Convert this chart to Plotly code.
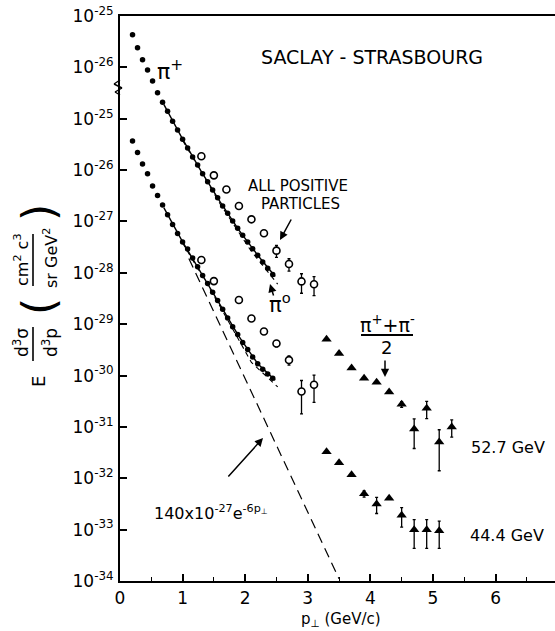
import plotly.graph_objects as go

FONT = "DejaVu Sans"

# ---------------- data ----------------
SHIFT_527 = 100  # the 52.7 GeV set is displaced upward by a factor 100

P_DOTS = [0.20, 0.28, 0.36, 0.44, 0.52, 0.60, 0.68, 0.76, 0.84, 0.92,
          1.00, 1.08, 1.16, 1.24, 1.32, 1.40, 1.48, 1.56, 1.64, 1.72,
          1.80, 1.88, 1.96, 2.04, 2.12, 2.20, 2.28, 2.36, 2.44]
PIP_527 = [4.3e-26, 2.4e-26, 1.41e-26, 8.9e-27, 5.4e-27, 3.2e-27, 2.1e-27, 1.4e-27, 8.9e-28, 6.0e-28,
           4.0e-28, 2.7e-28, 1.8e-28, 1.26e-28, 8.5e-29, 5.9e-29, 4.1e-29, 2.9e-29, 2.0e-29, 1.45e-29,
           1.02e-29, 7.4e-30, 5.4e-30, 4.0e-30, 2.95e-30, 2.19e-30, 1.62e-30, 1.23e-30, 9.3e-31]
PIP_444 = [3.7e-26, 2.2e-26, 1.32e-26, 8.5e-27, 4.9e-27, 3.2e-27, 2.1e-27, 1.35e-27, 8.7e-28, 5.8e-28,
           4.0e-28, 2.9e-28, 1.95e-28, 1.32e-28, 8.9e-29, 6.2e-29, 4.2e-29, 2.9e-29, 1.95e-29, 1.32e-29,
           8.9e-30, 6.3e-30, 4.4e-30, 3.2e-30, 2.3e-30, 1.7e-30, 1.32e-30, 1.07e-30, 8.9e-31]

FIT_P = [0.70, 1.00, 1.30, 1.60, 1.90, 2.20, 2.48]
FIT_527 = [1.9e-27, 4.0e-28, 9.3e-29, 2.4e-29, 6.8e-30, 2.2e-30, 8.5e-31]
FIT_444 = [1.86e-27, 4.0e-28, 9.8e-29, 2.4e-29, 5.8e-30, 1.7e-30, 8.1e-31]

DASH_P = [1.00, 1.60, 2.10, 2.52]
DASH_527 = [3.8e-28, 2.2e-29, 2.6e-30, 6.0e-31]
DASH_444 = [3.8e-28, 2.2e-29, 1.8e-30, 6.0e-31]

EXP_P = [1.10, 3.50]          # 140e-27 * exp(-6 pT)
EXP_Y = [1.9e-28, 1.1e-34]

P_ALL_527 = [1.3, 1.5, 1.7, 1.9, 2.1, 2.3, 2.5, 2.7, 2.9, 3.1]
ALL_527 = [1.86e-28, 7.9e-29, 4.2e-29, 2.0e-29, 1.10e-29, 5.9e-30, 2.7e-30, 1.48e-30, 6.8e-31, 6.0e-31]
ALL_527_ERR = [0, 0, 0, 0, 0, 0, 0.7e-30, 0.4e-30, 2.8e-31, 2.4e-31]

P_ALL_444 = [1.3, 1.5, 1.9, 2.1, 2.3, 2.5, 2.7, 2.9, 3.1]
ALL_444 = [1.78e-28, 6.9e-29, 2.95e-29, 1.29e-29, 7.2e-30, 4.2e-30, 2.0e-30, 4.9e-31, 6.6e-31]
ALL_444_ERR = [0, 0, 0, 0, 0, 0.6e-30, 0.4e-30, 3.1e-31, 3.6e-31]

P_PI_527 = [3.3, 3.5, 3.7, 3.9, 4.1, 4.3, 4.5, 4.7, 4.9, 5.1, 5.3]
PI_527 = [5.1e-32, 2.7e-32, 1.41e-32, 8.9e-33, 7.4e-33, 4.8e-33, 2.75e-33, 9.1e-34, 2.3e-33, 5.1e-34, 1.0e-33]
PI_527_ERR = [0, 0, 0, 0, 0, 0, 0.36e-33, 0.53e-33, 0.85e-33, 3.7e-34, 0.37e-33]

P_PI_444 = [3.3, 3.5, 3.7, 3.9, 4.1, 4.3, 4.5, 4.7, 4.9, 5.1]
PI_444 = [3.3e-32, 2.0e-32, 1.17e-32, 5.0e-33, 3.16e-33, 4.1e-33, 1.9e-33, 1.0e-33, 1.0e-33, 9.5e-34]
PI_444_ERR = [0, 0, 0, 0.7e-33, 1.1e-33, 0, 0.78e-33, 0.57e-33, 0.57e-33, 0.52e-33]

Y_TICKVALS = [1e-34, 1e-33, 1e-32, 1e-31, 1e-30, 1e-29, 1e-28, 1e-27, 1e-26, 1e-25, 1e-24, 1e-23]
Y_TICKTEXT = ["10<sup>-34</sup>", "10<sup>-33</sup>", "10<sup>-32</sup>", "10<sup>-31</sup>",
              "10<sup>-30</sup>", "10<sup>-29</sup>", "10<sup>-28</sup>", "10<sup>-27</sup>",
              "10<sup>-26</sup>", "10<sup>-25</sup>", "10<sup>-26</sup>", "10<sup>-25</sup>"]
X_TICKVALS = [0, 1, 2, 3, 4, 5, 6]


def scaled(vals, k):
    return [v * k for v in vals]


def errs(vals, k=1):
    return [e * k if e > 0 else None for e in vals]


fig = go.Figure()

# fitted / guide lines
for yv, k in ((FIT_527, SHIFT_527), (FIT_444, 1)):
    fig.add_trace(go.Scatter(x=FIT_P, y=scaled(yv, k), mode="lines",
                             line=dict(color="black", width=1.4), showlegend=False))
for yv, k in ((DASH_527, SHIFT_527), (DASH_444, 1)):
    fig.add_trace(go.Scatter(x=DASH_P, y=scaled(yv, k), mode="lines",
                             line=dict(color="black", width=1.1, dash="5px,4px"), showlegend=False))
fig.add_trace(go.Scatter(x=EXP_P, y=EXP_Y, mode="lines",
                         line=dict(color="black", width=1.2, dash="10px,6px"), showlegend=False))

# pi+ dots
for yv, k in ((PIP_527, SHIFT_527), (PIP_444, 1)):
    fig.add_trace(go.Scatter(x=P_DOTS, y=scaled(yv, k), mode="markers",
                             marker=dict(symbol="circle", size=5.5, color="black"), showlegend=False))

# all positive particles (open circles)
for px, yv, ev, k in ((P_ALL_527, ALL_527, ALL_527_ERR, SHIFT_527), (P_ALL_444, ALL_444, ALL_444_ERR, 1)):
    fig.add_trace(go.Scatter(x=px, y=scaled(yv, k), mode="markers",
                             marker=dict(symbol="circle", size=7, color="white",
                                         line=dict(color="black", width=1.6)),
                             error_y=dict(type="data", array=errs(ev, k), visible=True,
                                          thickness=1.3, width=1.5, color="black"),
                             showlegend=False))

# (pi+ + pi-)/2 triangles
for px, yv, ev, k in ((P_PI_527, PI_527, PI_527_ERR, SHIFT_527), (P_PI_444, PI_444, PI_444_ERR, 1)):
    fig.add_trace(go.Scatter(x=px, y=scaled(yv, k), mode="markers",
                             marker=dict(symbol="triangle-up", size=9, color="black"),
                             error_y=dict(type="data", array=errs(ev, k), visible=True,
                                          thickness=1.3, width=1.5, color="black"),
                             showlegend=False))

# ---------------- layout helpers (pixel -> paper) ----------------
L, R, T, B = 120, 0, 16, 50
W, H = 555, 631
PW, PH = W - L - R, H - T - B


def P(x, y):
    return (x - L) / PW, (H - B - y) / PH


ann = []


def text(x, y, s, size, angle=0, anchor="center"):
    px, py = P(x, y)
    ann.append(dict(xref="paper", yref="paper", x=px, y=py, text=s, showarrow=False,
                    textangle=angle, xanchor=anchor, yanchor="middle",
                    font=dict(family=FONT, size=size, color="black")))


def arrow(hx, hy, tx, ty):
    px, py = P(hx, hy)
    ann.append(dict(xref="paper", yref="paper", x=px, y=py, ax=tx - hx, ay=ty - hy,
                    axref="pixel", ayref="pixel", text="", showarrow=True,
                    arrowhead=2, arrowsize=1.1, arrowwidth=1.5, arrowcolor="black"))


shapes = []


def seg(x0, y0, x1, y1, w=1.6):
    a, b = P(x0, y0)
    c, d = P(x1, y1)
    shapes.append(dict(type="line", xref="paper", yref="paper", x0=a, y0=b, x1=c, y1=d,
                       line=dict(color="black", width=w)))


text(372, 57, "SACLAY - STRASBOURG", 19)
text(170, 70, "π<sup>+</sup>", 22)
text(298, 186, "ALL POSITIVE", 15)
text(300, 204, "PARTICLES", 15)
arrow(280, 240, 292, 218)
text(280, 303, "π<sup>o</sup>", 21)
arrow(270, 284, 274, 297)
text(387, 324, "π<sup>+</sup>+π<sup>-</sup>", 19)
seg(361, 335, 413, 335, 1.8)
text(386, 348, "2", 18)
arrow(385, 377, 385, 359)
text(508, 447, "52.7 GeV", 16)
text(507, 535, "44.4 GeV", 16)
text(152, 512, "140x10<sup>-27</sup>e<sup>-6p<sub>⊥</sub></sup>", 16, anchor="left")
arrow(263, 438, 227, 478)
text(341, 619, "p<sub>⊥</sub> (GeV/c)", 15)

# y-axis title built from rotated pieces
text(38, 382, "E", 18, angle=-90)
text(21, 343, "d<sup>3</sup>σ", 17, angle=-90)
text(50, 343, "d<sup>3</sup>p", 17, angle=-90)
seg(33, 327, 33, 361)
text(38, 307, "(", 44, angle=-90)
text(21, 260, "cm<sup>2</sup> c<sup>3</sup>", 16, angle=-90)
text(50, 258, "sr GeV<sup>2</sup>", 16, angle=-90)
seg(33, 234, 33, 286)
text(38, 213, ")", 44, angle=-90)

# axis break mark
for (x0, y0, x1, y1) in ((120, 80, 114, 84), (114, 84, 122, 88), (122, 88, 115, 92), (115, 92, 120, 95)):
    seg(x0, y0, x1, y1, 1.4)

fig.update_layout(
    width=W, height=H, margin=dict(l=L, r=R, t=T, b=B),
    paper_bgcolor="white", plot_bgcolor="white",
    font=dict(family=FONT, color="black"),
    annotations=ann, shapes=shapes, showlegend=False,
    xaxis=dict(range=[0, 6.95], tickvals=X_TICKVALS, ticks="inside", ticklen=7, tickwidth=1.5,
               tickcolor="black", showline=True, linewidth=2, linecolor="black", mirror=True,
               showgrid=False, zeroline=False, tickfont=dict(size=17, family=FONT),
               ticklabelstandoff=1,
               minor=dict(dtick=0.5, ticks="inside", ticklen=4, tickwidth=1.2, tickcolor="black",
                          showgrid=False)),
    yaxis=dict(type="log", range=[-34, -23], tickvals=Y_TICKVALS, ticktext=Y_TICKTEXT,
               ticks="inside", ticklen=7, tickwidth=1.5, tickcolor="black",
               showline=True, linewidth=2, linecolor="black", showgrid=False, zeroline=False,
               tickfont=dict(size=17, family=FONT), ticklabelstandoff=1),
)

fig.write_html("out.html", config={"displayModeBar": False},
               post_script="document.body.style.margin='0';document.body.style.overflow='hidden';")
